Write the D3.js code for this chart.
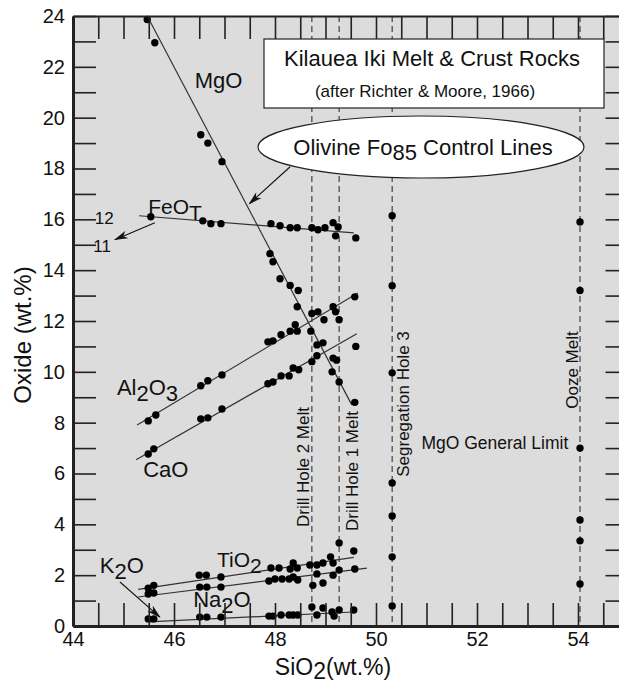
<!DOCTYPE html>
<html>
<head>
<meta charset="utf-8">
<script src="https://cdn.jsdelivr.net/npm/d3@7"></script>
<style>
  body { margin: 0; background: #fff; }
  svg text { font-family: Arial, "Liberation Sans", Helvetica, sans-serif; fill: #111; }
  .axis path, .axis line { stroke: #222; }
</style>
</head>
<body>
<div id="chart"></div>
<script>
// SiO2 vs oxide, Kilauea Iki samples: [SiO2, oxide]
const mgo = [[45.47,23.86],[45.62,22.95],[46.53,19.33],[46.67,19.0],[46.95,18.27],[47.9,14.65],[47.96,14.33],[48.1,13.66],[48.3,13.4],[48.46,13.2],[48.44,12.56],[48.71,11.6],[48.83,11.06],[48.95,11.14],[49.13,10.0],[49.27,9.6],[49.58,8.8]];
const feot = [[45.54,16.1],[46.57,15.94],[46.73,15.83],[46.93,15.83],[47.92,15.83],[48.1,15.75],[48.3,15.67],[48.44,15.67],[48.73,15.67],[48.85,15.59],[48.99,15.67],[49.15,15.87],[49.25,15.7],[49.2,15.35],[49.6,15.27]];
const al2o3 = [[45.49,8.07],[45.64,8.3],[46.53,9.45],[46.67,9.65],[46.95,9.88],[47.86,11.18],[47.96,11.22],[48.12,11.46],[48.3,11.6],[48.4,11.85],[48.44,11.6],[48.73,12.3],[48.85,12.36],[48.97,12.05],[49.15,12.56],[49.2,12.36],[49.27,12.05],[49.58,12.95]];
const cao = [[45.49,6.77],[45.6,6.97],[46.53,8.15],[46.67,8.19],[46.95,8.54],[47.86,9.53],[47.96,9.6],[48.12,9.84],[48.28,9.84],[48.36,10.15],[48.47,10.08],[48.73,10.4],[48.83,10.63],[49.15,10.54],[49.22,10.46],[49.6,11.0]];
const tio2 = [[45.49,1.49],[45.6,1.6],[46.5,2.0],[46.64,2.0],[46.93,1.93],[47.92,2.28],[48.08,2.28],[48.3,2.24],[48.36,2.48],[48.44,2.28],[48.69,2.4],[48.83,2.4],[48.95,2.48],[49.1,2.72],[49.15,2.48],[49.27,3.27],[49.56,2.95]];
const na2o = [[45.49,1.26],[45.6,1.3],[46.51,1.53],[46.65,1.53],[46.93,1.53],[47.88,1.77],[48.0,1.85],[48.14,1.85],[48.28,1.85],[48.36,1.93],[48.45,1.81],[48.75,1.6],[48.83,2.05],[48.95,1.69],[49.15,2.0],[49.27,2.2],[49.58,2.24]];
const k2o = [[45.49,0.28],[45.6,0.28],[46.51,0.35],[46.65,0.35],[46.93,0.35],[47.88,0.39],[47.96,0.39],[48.12,0.43],[48.28,0.43],[48.36,0.43],[48.45,0.43],[48.73,0.75],[48.83,0.43],[48.95,0.71],[49.13,0.55],[49.17,0.39],[49.27,0.63],[49.56,0.63]];

// melts on the dashed lines
const segX = 50.32, segY = [16.14,13.39,9.96,5.63,4.33,2.72,0.79];
const oozeX = 54.04, oozeY = [15.9,13.2,7.0,4.17,3.35,1.65];

// olivine control lines (end points)
const controlLines = [
  [[45.47,24.0],[49.52,8.7]],     // MgO
  [[45.31,16.14],[49.56,15.47]],  // FeOT
  [[45.27,7.91],[49.64,13.1]],    // Al2O3
  [[45.25,6.54],[49.62,11.5]],    // CaO
  [[45.29,1.44],[49.56,2.7]],     // TiO2
  [[45.29,1.14],[49.82,2.28]],    // Na2O
  [[45.49,0.16],[49.55,0.55]]     // K2O
];

const refLines = [48.73, 49.27, 50.32, 54.04];
const xTicks = d3.range(44, 55.01, 0.5);
const yTicks = d3.range(0, 25, 1);

const W = 619, H = 686;
const x = d3.scaleLinear().domain([44, 55]).range([73, 628.5]);
const y = d3.scaleLinear().domain([0, 24]).range([626, 16]);

const svg = d3.select('#chart').append('svg')
  .attr('width', W).attr('height', H);

const defs = svg.append('defs');
defs.append('marker')
  .attr('id', 'arrow')
  .attr('viewBox', '0 0 14 8')
  .attr('refX', 13).attr('refY', 4)
  .attr('markerWidth', 14).attr('markerHeight', 8)
  .attr('markerUnits', 'userSpaceOnUse')
  .attr('orient', 'auto')
  .append('path')
  .attr('d', 'M0,0 L14,4 L0,8 L4,4 Z')
  .attr('fill', '#111');

svg.append('rect')
  .attr('x', x(44)).attr('y', y(24))
  .attr('width', x(55) - x(44)).attr('height', y(0) - y(24))
  .attr('fill', '#dcdcdc');

// dashed melt lines
svg.append('g').selectAll('line')
  .data(refLines).enter().append('line')
  .attr('x1', d => x(d)).attr('x2', d => x(d))
  .attr('y1', y(24)).attr('y2', y(0))
  .attr('stroke', '#333').attr('stroke-width', 1.1)
  .attr('stroke-dasharray', '6,4');

// control lines
const line = d3.line().x(d => x(d[0])).y(d => y(d[1]));
svg.append('g').selectAll('path')
  .data(controlLines).enter().append('path')
  .attr('d', line)
  .attr('fill', 'none').attr('stroke', '#333').attr('stroke-width', 1.2);

// points
let allPts = [].concat(mgo, feot, al2o3, cao, tio2, na2o, k2o,
  segY.map(v => [segX, v]), oozeY.map(v => [oozeX, v]));
svg.append('g').selectAll('circle')
  .data(allPts).enter().append('circle')
  .attr('cx', d => x(d[0])).attr('cy', d => y(d[1]))
  .attr('r', 3.7).attr('fill', '#000');

// legend box
svg.append('rect')
  .attr('x', 264).attr('y', 39).attr('width', 340).attr('height', 69)
  .attr('fill', '#fff').attr('stroke', '#222').attr('stroke-width', 1.2);
svg.append('text').attr('x', 432).attr('y', 66)
  .attr('text-anchor', 'middle').style('font-size', '22px')
  .text('Kilauea Iki Melt & Crust Rocks');
svg.append('text').attr('x', 425).attr('y', 97)
  .attr('text-anchor', 'middle').style('font-size', '17px')
  .text('(after Richter & Moore, 1966)');

// ellipse
svg.append('ellipse')
  .attr('cx', 421).attr('cy', 147).attr('rx', 163).attr('ry', 31)
  .attr('fill', '#fff').attr('stroke', '#222').attr('stroke-width', 1.2);
let ol = svg.append('text').attr('x', 423).attr('y', 155)
  .attr('text-anchor', 'middle').style('font-size', '22px');
ol.append('tspan').text('Olivine Fo');
ol.append('tspan').attr('dy', 5).text('85');
ol.append('tspan').attr('dy', -5).text(' Control Lines');

// arrows
function arrow(a, b) {
  svg.append('line')
    .attr('x1', x(a[0])).attr('y1', y(a[1]))
    .attr('x2', x(b[0])).attr('y2', y(b[1]))
    .attr('stroke', '#111').attr('stroke-width', 1.1)
    .attr('marker-end', 'url(#arrow)');
}
arrow([48.3, 18.07], [47.49, 16.61]);
arrow([45.62, 15.87], [44.83, 15.2]);
arrow([44.93, 1.73], [45.72, 0.35]);

// oxide labels, parts: plain strings or {lo: subscript}
function label(px, py, parts, size) {
  let t = svg.append('text')
    .attr('x', x(px)).attr('y', y(py))
    .style('font-size', (size || 22) + 'px');
  let down = false;
  parts.forEach(p => {
    if (typeof p === 'object') {
      t.append('tspan').attr('dy', down ? 0 : 6).text(p.lo);
      down = true;
    } else {
      t.append('tspan').attr('dy', down ? -6 : 0).text(p);
      down = false;
    }
  });
  return t;
}
label(46.41, 21.18, ['MgO']);
label(45.49, 16.2, ['FeO', {lo: 'T'}], 21);
label(44.87, 9.09, ['Al', {lo: '2'}, 'O', {lo: '3'}]);
label(45.39, 5.87, ['CaO']);
label(46.85, 2.32, ['TiO', {lo: '2'}], 21);
label(44.53, 2.09, ['K', {lo: '2'}, 'O']);
label(46.38, 0.75, ['Na', {lo: '2'}, 'O']);
label(44.43, 15.8, ['12'], 17);
label(44.4, 14.72, ['11'], 17);
label(50.9, 6.98, ['MgO General Limit'], 17.5);

// vertical melt labels
const vLabels = [
  { text: 'Drill Hole 2 Melt', px: 303, py: 467 },
  { text: 'Drill Hole 1 Melt', px: 352, py: 471 },
  { text: 'Segregation Hole 3', px: 403, py: 404 },
  { text: 'Ooze Melt', px: 572, py: 370 }
];
svg.append('g').selectAll('text')
  .data(vLabels).enter().append('text')
  .attr('transform', d => 'translate(' + (d.px + 6) + ',' + d.py + ') rotate(-90)')
  .attr('text-anchor', 'middle')
  .style('font-size', '17px')
  .text(d => d.text);

// axes
const gL = svg.append('g').attr('class', 'axis')
  .attr('transform', 'translate(' + x(44) + ',0)')
  .call(d3.axisLeft(y).tickValues(yTicks).tickSize(-23).tickSizeOuter(0).tickPadding(8)
    .tickFormat(d => d % 2 === 0 ? d : ''));
gL.select('.domain').attr('stroke-width', 3);
gL.selectAll('.tick line').attr('stroke-width', 1.6);
gL.selectAll('text').style('font-size', '20px');

const gB = svg.append('g').attr('class', 'axis')
  .attr('transform', 'translate(0,' + y(0) + ')')
  .call(d3.axisBottom(x).tickValues(xTicks).tickSize(-23).tickSizeOuter(0).tickPadding(6)
    .tickFormat(d => d % 2 === 0 ? d : ''));
gB.select('.domain').attr('stroke-width', 3);
gB.selectAll('.tick line').attr('stroke-width', 1.6);
gB.selectAll('text').style('font-size', '20px');

const gT = svg.append('g').attr('class', 'axis')
  .attr('transform', 'translate(0,' + y(24) + ')')
  .call(d3.axisTop(x).tickValues(xTicks).tickSize(-23).tickSizeOuter(0).tickFormat(''));
gT.select('.domain').attr('stroke-width', 2);
gT.selectAll('.tick line').attr('stroke-width', 1.6);

const gR = svg.append('g').attr('class', 'axis')
  .attr('transform', 'translate(' + x(55) + ',0)')
  .call(d3.axisRight(y).tickValues(yTicks).tickSize(-23).tickSizeOuter(0).tickFormat(''));
gR.select('.domain').attr('stroke-width', 2);
gR.selectAll('.tick line').attr('stroke-width', 1.6);

// axis titles
let xt = svg.append('text').attr('x', 333).attr('y', 675)
  .attr('text-anchor', 'middle').style('font-size', '23px');
xt.append('tspan').text('SiO');
xt.append('tspan').attr('dy', 4).text('2');
xt.append('tspan').attr('dy', -4).text('(wt.%)');

svg.append('text')
  .attr('transform', 'translate(31,335) rotate(-90)')
  .attr('text-anchor', 'middle').style('font-size', '24px')
  .text('Oxide (wt.%)');
</script>
</body>
</html>
